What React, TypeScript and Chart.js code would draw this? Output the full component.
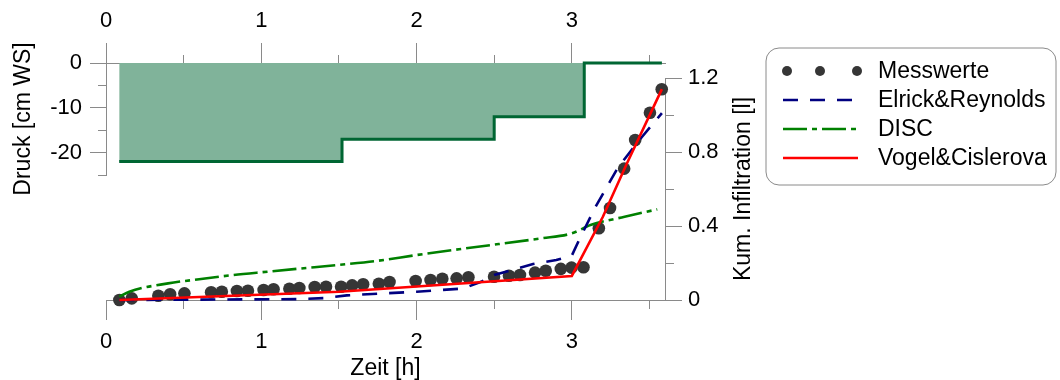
import { useEffect, useRef } from "react";
import { Chart, registerables } from "chart.js";
Chart.register(...registerables);

const FONT = "'Liberation Sans', Arial, Helvetica, sans-serif";

// Pressure steps (top panel)
const pressureTimes = [0.085, 1.52, 2.5, 3.08, 3.58];
const pressureValues = [-22, -17, -12, 0, 0];

// Measured cumulative infiltration
const measTimes = [0.086, 0.166, 0.337, 0.413, 0.505, 0.677, 0.746, 0.843, 0.914, 1.015, 1.079, 1.181, 1.245, 1.344, 1.417, 1.514, 1.585, 1.656, 1.757, 1.826, 1.994, 2.09, 2.166, 2.258, 2.334, 2.499, 2.595, 2.666, 2.763, 2.832, 2.929, 2.998, 3.075, 3.174, 3.246, 3.337, 3.408, 3.503, 3.579];
const measValues = [0, 0.009, 0.023, 0.031, 0.036, 0.042, 0.045, 0.049, 0.05, 0.054, 0.058, 0.061, 0.065, 0.07, 0.072, 0.072, 0.079, 0.085, 0.088, 0.097, 0.103, 0.108, 0.115, 0.117, 0.123, 0.126, 0.131, 0.135, 0.148, 0.158, 0.168, 0.175, 0.177, 0.388, 0.497, 0.71, 0.865, 1.012, 1.139];

// Elrick & Reynolds model
const elrickTimes = [0.086, 0.6, 1.25, 1.4, 1.55, 1.8, 2.0, 2.3, 2.42, 2.5, 2.75, 2.9, 3.0, 3.05, 3.15, 3.3, 3.45, 3.58];
const elrickValues = [0, 0.002, 0.005, 0.01, 0.025, 0.036, 0.045, 0.062, 0.1, 0.135, 0.195, 0.216, 0.24, 0.33, 0.5, 0.72, 0.88, 1.01];

// DISC model
const discTimes = [0.086, 0.15, 0.4, 0.6, 0.82, 1.04, 1.25, 1.5, 1.75, 2.0, 2.37, 2.8, 3.0, 3.12, 3.34, 3.55];
const discValues = [0.018, 0.045, 0.09, 0.112, 0.135, 0.153, 0.17, 0.19, 0.212, 0.243, 0.285, 0.333, 0.36, 0.405, 0.45, 0.49];

// Vogel & Cislerova model
const vogelTimes = [0.086, 1.5, 3.0, 3.2, 3.35, 3.58];
const vogelValues = [0, 0.045, 0.13, 0.45, 0.73, 1.14];

const seriesLabels = ["Messwerte", "Elrick&Reynolds", "DISC", "Vogel&Cislerova"];
const xTitle = "Zeit [h]";
const pressureTitle = "Druck [cm WS]";
const infilTitle = "Kum. Infiltration [l]";

const AXIS = "#8a8a8a";

const pts = (xs: number[], ys: number[]) => xs.map((x, i) => ({ x, y: ys[i] }));

const isInt = (v: number) => Math.abs(v - Math.round(v)) < 1e-6;

function tickGrid(tl: number, minor: number, outerFirst: boolean, isMajor: (v: number) => boolean) {
  return {
    drawOnChartArea: false,
    drawTicks: true,
    tickLength: tl,
    tickColor: AXIS,
    tickWidth: 1,
    color: AXIS,
    tickBorderDash: [tl, 1000],
    tickBorderDashOffset: (ctx: any) => {
      const v = ctx && ctx.tick ? ctx.tick.value : 0;
      if (isMajor(v)) return 0;
      return outerFirst ? -(tl - minor) : tl - minor;
    },
  };
}

const tickFont = { size: 22, family: FONT };
const titleFont = { size: 23, family: FONT };

function roundRectPath(ctx: CanvasRenderingContext2D, x: number, y: number, w: number, h: number, r: number) {
  ctx.beginPath();
  ctx.moveTo(x + r, y);
  ctx.lineTo(x + w - r, y);
  ctx.arcTo(x + w, y, x + w, y + r, r);
  ctx.lineTo(x + w, y + h - r);
  ctx.arcTo(x + w, y + h, x + w - r, y + h, r);
  ctx.lineTo(x + r, y + h);
  ctx.arcTo(x, y + h, x, y + h - r, r);
  ctx.lineTo(x, y + r);
  ctx.arcTo(x, y, x + r, y, r);
  ctx.closePath();
}

const decorPlugin = {
  id: "decor",
  afterDraw(chart: any) {
    const { ctx, chartArea } = chart;
    ctx.save();
    // right axis title, reading bottom to top
    ctx.font = `23px ${FONT}`;
    ctx.fillStyle = "#000";
    ctx.textAlign = "center";
    ctx.textBaseline = "middle";
    ctx.translate(chartArea.right + 79, (chartArea.top + chartArea.bottom) / 2);
    ctx.rotate(-Math.PI / 2);
    ctx.fillText(infilTitle, 0, 0);
    ctx.restore();

    // legend box
    const x0 = chartArea.right + 101;
    const y0 = 48;
    const w = 290;
    const h = 137;
    ctx.save();
    roundRectPath(ctx, x0, y0, w, h, 13);
    ctx.strokeStyle = AXIS;
    ctx.lineWidth = 1;
    ctx.stroke();
    ctx.font = `23px ${FONT}`;
    ctx.textAlign = "left";
    ctx.textBaseline = "middle";
    chart.data.datasets.forEach((ds: any, i: number) => {
      const y = y0 + 23 + i * 29;
      const sx0 = x0 + 17;
      const sx1 = x0 + 92;
      if (ds.showLine === false) {
        ctx.fillStyle = ds.backgroundColor;
        [x0 + 21, x0 + 54, x0 + 91].forEach((cx) => {
          ctx.beginPath();
          ctx.arc(cx, y, 5, 0, Math.PI * 2);
          ctx.fill();
        });
      } else {
        ctx.save();
        ctx.setLineDash(ds.borderDash || []);
        ctx.lineWidth = ds.borderWidth;
        ctx.strokeStyle = ds.borderColor;
        ctx.beginPath();
        ctx.moveTo(sx0, y);
        ctx.lineTo(sx1, y);
        ctx.stroke();
        ctx.restore();
      }
      ctx.fillStyle = "#000";
      ctx.fillText(ds.label, x0 + 112, y + 1);
    });
    ctx.restore();
  },
};

export default function App() {
  const topRef = useRef<HTMLCanvasElement>(null);
  const botRef = useRef<HTMLCanvasElement>(null);

  useEffect(() => {
    Chart.defaults.font.family = FONT;

    const bottom = new Chart(botRef.current as HTMLCanvasElement, {
      type: "line",
      data: {
        datasets: [
          {
            label: seriesLabels[0],
            data: pts(measTimes, measValues),
            showLine: false,
            pointRadius: 6.3,
            pointBorderWidth: 0,
            backgroundColor: "#363636",
            borderColor: "#363636",
            pointBackgroundColor: "#363636",
            clip: false,
            order: 4,
          },
          {
            label: seriesLabels[1],
            data: pts(elrickTimes, elrickValues),
            borderColor: "#000080",
            borderWidth: 2.6,
            borderDash: [15, 12],
            pointRadius: 0,
            fill: false,
            clip: false,
            order: 2,
          },
          {
            label: seriesLabels[2],
            data: pts(discTimes, discValues),
            borderColor: "#008000",
            borderWidth: 2.6,
            borderDash: [24, 5, 5, 5],
            pointRadius: 0,
            fill: false,
            cubicInterpolationMode: "monotone",
            clip: false,
            order: 3,
          },
          {
            label: seriesLabels[3],
            data: pts(vogelTimes, vogelValues),
            borderColor: "#ff0000",
            borderWidth: 2.6,
            pointRadius: 0,
            fill: false,
            clip: false,
            order: 1,
          },
        ] as any,
      },
      options: {
        responsive: false,
        animation: false,
        events: [],
        layout: { padding: { left: 106, top: 78, right: 0, bottom: 0 } },
        plugins: { legend: { display: false }, tooltip: { enabled: false } },
        scales: {
          x: {
            type: "linear",
            position: "bottom",
            min: 0,
            max: 3.6,
            afterFit: (s: any) => {
              s.height = 80;
            },
            ticks: {
              stepSize: 0.5,
              includeBounds: false,
              autoSkip: false,
              maxRotation: 0,
              padding: 9,
              color: "#000",
              font: tickFont,
              callback: (v: any) => (isInt(Number(v)) ? String(Math.round(Number(v))) : ""),
            },
            grid: tickGrid(20, 8, false, isInt) as any,
            border: { color: AXIS, width: 1 },
            title: {
              display: true,
              text: xTitle,
              color: "#000",
              font: { ...titleFont, lineHeight: 1 },
              padding: { top: 0, bottom: 0 },
            },
          },
          y: {
            type: "linear",
            position: "right",
            min: 0,
            max: 1.2,
            afterFit: (s: any) => {
              s.width = 395;
            },
            ticks: {
              stepSize: 0.2,
              includeBounds: false,
              autoSkip: false,
              padding: 6,
              color: "#000",
              font: tickFont,
              callback: (v: any) => {
                const n = Math.round(Number(v) * 10);
                return n % 4 === 0 ? String(n / 10) : "";
              },
            },
            grid: tickGrid(17, 8, false, (v) => Math.round(v * 10) % 4 === 0) as any,
            border: { color: AXIS, width: 1 },
          },
        },
      } as any,
      plugins: [decorPlugin],
    });

    const top = new Chart(topRef.current as HTMLCanvasElement, {
      type: "line",
      data: {
        datasets: [
          {
            label: "Druck",
            data: pts(pressureTimes, pressureValues),
            stepped: true,
            borderColor: "#006633",
            borderWidth: 3,
            backgroundColor: "#80b39a",
            fill: "origin",
            pointRadius: 0,
            clip: false,
          },
        ] as any,
      },
      options: {
        responsive: false,
        animation: false,
        events: [],
        layout: { padding: { left: 0, top: 0, right: 395, bottom: 205 } },
        plugins: { legend: { display: false }, tooltip: { enabled: false } },
        scales: {
          x: {
            type: "linear",
            position: "top",
            min: 0,
            max: 3.6,
            afterFit: (s: any) => {
              s.height = 63;
            },
            ticks: {
              stepSize: 0.5,
              includeBounds: false,
              autoSkip: false,
              maxRotation: 0,
              padding: 9,
              color: "#000",
              font: tickFont,
              callback: (v: any) => (isInt(Number(v)) ? String(Math.round(Number(v))) : ""),
            },
            grid: tickGrid(20, 8, true, isInt) as any,
            border: { color: AXIS, width: 1 },
          },
          y: {
            type: "linear",
            position: "left",
            min: -25,
            max: 0,
            afterFit: (s: any) => {
              s.width = 106;
            },
            ticks: {
              stepSize: 5,
              includeBounds: false,
              autoSkip: false,
              padding: 8,
              color: "#000",
              font: tickFont,
              callback: (v: any) => (Math.round(Number(v)) % 10 === 0 ? String(Math.round(Number(v))) : ""),
            },
            grid: tickGrid(16, 8, true, (v) => Math.round(v) % 10 === 0) as any,
            border: { color: AXIS, width: 1 },
            title: {
              display: true,
              text: pressureTitle,
              color: "#000",
              font: titleFont,
              padding: { top: 10, bottom: 0 },
            },
          },
        },
      } as any,
    });

    return () => {
      top.destroy();
      bottom.destroy();
    };
  }, []);

  return (
    <div
      style={{
        position: "fixed",
        left: 0,
        top: 0,
        width: 1060,
        height: 380,
        background: "#fff",
        overflow: "hidden",
      }}
    >
      <canvas ref={botRef} width={1060} height={380} style={{ position: "absolute", left: 0, top: 0 }} />
      <canvas ref={topRef} width={1060} height={380} style={{ position: "absolute", left: 0, top: 0 }} />
    </div>
  );
}
